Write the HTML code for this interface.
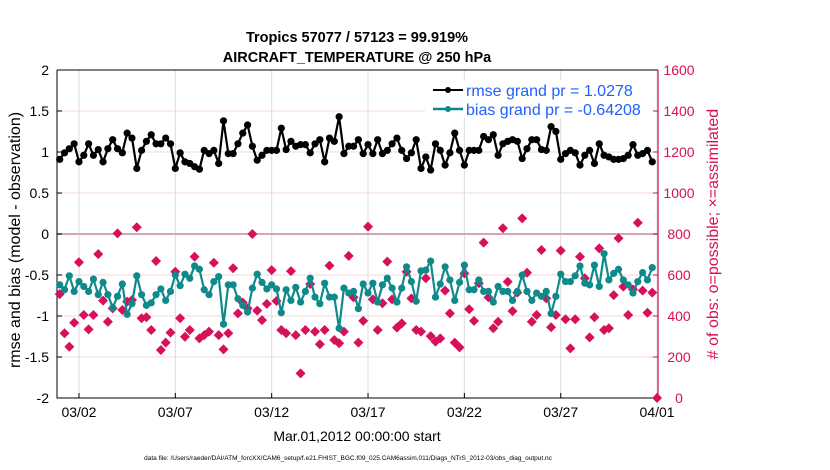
<!DOCTYPE html>
<html><head><meta charset="utf-8"><style>
body{margin:0;background:#fff;width:830px;height:470px;overflow:hidden}
svg{display:block;font-family:"Liberation Sans",sans-serif}
</style></head><body>
<svg id="chart" width="830" height="470" viewBox="0 0 830 470">
<g id="grid"></g>
<g id="axes"></g>
<g id="series"></g>
<text x="357" y="42" text-anchor="middle" font-size="14.5" font-weight="bold">Tropics 57077 / 57123 = 99.919%</text>
<text x="357" y="62" text-anchor="middle" font-size="14.5" font-weight="bold">AIRCRAFT_TEMPERATURE @ 250 hPa</text>
<text transform="translate(20,240) rotate(-90)" text-anchor="middle" font-size="16">rmse and bias (model - observation)</text>
<text transform="translate(718,234) rotate(-90)" text-anchor="middle" font-size="16" fill="#d6105a"># of obs: o=possible; ×=assimilated</text>
<text x="357" y="441" text-anchor="middle" font-size="14">Mar.01,2012 00:00:00 start</text>
<text x="348" y="460" text-anchor="middle" font-size="6.5">data file: /Users/raeder/DAI/ATM_forcXX/CAM6_setup/f.e21.FHIST_BGC.f09_025.CAM6assim.011/Diags_NTrS_2012-03/obs_diag_output.nc</text>
<g>
<rect x="425" y="80" width="228" height="38" fill="#fff"/>
<line x1="433" y1="90" x2="463" y2="90" stroke="#000" stroke-width="2"/>
<circle cx="448" cy="90" r="3" fill="#000"/>
<text x="466" y="96" font-size="16" fill="#1f5fff">rmse grand pr = 1.0278</text>
<line x1="433" y1="109" x2="463" y2="109" stroke="#0f8a8a" stroke-width="2.5"/>
<circle cx="448" cy="109" r="3" fill="#0f8a8a"/>
<text x="466" y="115" font-size="16" fill="#1f5fff">bias grand pr = -0.64208</text>
</g>
</svg>
<script>
const rmse=[0.91,0.99,1.04,1.10,0.88,0.96,1.10,0.96,1.03,0.88,1.04,1.15,1.04,0.99,1.23,1.17,0.80,1.02,1.13,1.21,1.10,1.10,1.17,1.10,0.80,0.99,0.88,0.86,0.82,0.79,1.02,0.98,
1.02,0.86,1.38,0.98,0.98,1.10,1.23,1.33,1.07,0.90,0.96,1.02,1.02,1.02,1.29,1.03,1.13,1.07,1.09,1.09,0.99,1.10,1.15,0.88,1.17,1.13,1.43,0.98,1.07,1.07,1.15,
0.98,1.09,0.98,1.15,0.98,1.02,1.10,1.17,1.02,0.92,0.99,1.15,0.80,0.94,0.78,1.10,1.02,0.84,0.99,1.23,1.02,0.84,1.02,1.02,1.02,1.19,1.15,1.21,0.96,1.10,1.13,
1.15,1.13,0.92,1.04,1.15,1.15,1.03,1.02,1.31,1.25,0.91,0.98,1.02,0.99,0.84,0.96,1.02,0.86,1.10,0.96,0.94,0.91,0.91,0.92,0.96,1.09,0.96,0.98,1.02,0.88];
const bias=[-0.62,-0.68,-0.51,-0.70,-0.58,-0.64,-0.70,-0.55,-0.74,-0.59,-0.74,-0.90,-0.76,-0.61,-0.98,-0.85,-0.51,-0.74,-0.87,-0.84,-0.74,-0.67,-0.81,-0.70,-0.50,-0.63,-0.49,-0.54,-0.39,-0.43,-0.68,-0.74,
-0.58,-0.52,-1.10,-0.62,-0.62,-0.79,-0.87,-0.95,-0.66,-0.49,-0.59,-0.67,-0.62,-0.67,-0.96,-0.68,-0.81,-0.65,-0.83,-0.70,-0.54,-0.77,-0.85,-0.60,-0.77,-0.77,-1.15,-0.66,-0.72,-0.70,-0.91,
-0.61,-0.72,-0.60,-0.83,-0.62,-0.54,-0.66,-0.83,-0.66,-0.40,-0.58,-0.82,-0.45,-0.44,-0.33,-0.77,-0.61,-0.40,-0.56,-0.81,-0.59,-0.38,-0.68,-0.68,-0.56,-0.70,-0.70,-0.83,-0.64,-0.70,-0.70,
-0.81,-0.70,-0.50,-0.70,-0.81,-0.72,-0.76,-0.70,-0.97,-0.76,-0.49,-0.58,-0.58,-0.51,-0.39,-0.60,-0.62,-0.38,-0.64,-0.24,-0.56,-0.48,-0.43,-0.56,-0.62,-0.72,-0.58,-0.47,-0.56,-0.41];
const obsCount=[507,316,250,367,662,405,335,405,702,475,372,437,803,429,470,478,833,389,394,332,668,234,270,319,616,389,299,332,689,291,307,324,
660,307,237,316,633,413,465,437,800,426,380,459,624,473,332,316,619,307,120,332,556,324,262,332,646,283,267,324,693,491,270,
376,836,481,332,462,665,481,343,364,616,486,332,324,584,302,275,291,524,413,270,247,608,433,376,560,758,491,340,372,828,567,
424,514,876,611,372,405,722,486,345,405,719,384,242,384,689,584,296,394,730,332,340,502,779,543,405,530,855,524,416,514,0];
const leftTicks=[2,1.5,1,0.5,0,-0.5,-1,-1.5,-2];
const rightTicks=[1600,1400,1200,1000,800,600,400,200,0];
const dateTicks=["03/02","03/07","03/12","03/17","03/22","03/27","04/01"];
const dateTickDays=[1,6,11,16,21,26,31];

const X0=57,X1=658,Y0=70,Y1=398;
const xDay=d=>59.7+d*19.27;
const yL=v=>Y1-(v+2)/4*(Y1-Y0);
const yR=v=>Y1-v/1600*(Y1-Y0);
const NS="http://www.w3.org/2000/svg";
function mk(tag,attrs,parent){const e=document.createElementNS(NS,tag);for(const k in attrs)e.setAttribute(k,attrs[k]);parent.appendChild(e);return e;}
const grid=document.getElementById('grid'),axes=document.getElementById('axes'),ser=document.getElementById('series');

leftTicks.forEach(v=>{
  const l=mk('line',{x1:X0,x2:X1,y1:yL(v),y2:yL(v),stroke:'#f2d4de','stroke-width':1},grid);
  
  
  const t=mk('line',{x1:X0,x2:X0+5,y1:yL(v),y2:yL(v),stroke:'#000'},axes);
  
  
  const tx=mk('text',{x:X0-8,y:yL(v)+5,'text-anchor':'end','font-size':14},axes);
  tx.textContent=String(v);
  
  
});
rightTicks.forEach(v=>{
  const t=mk('line',{x1:X1-5,x2:X1,y1:yR(v),y2:yR(v),stroke:'#d6105a'},axes);
  
  
  const tx=mk('text',{x:679,y:yR(v)+5,'text-anchor':'middle','font-size':14,fill:'#d6105a'},axes);
  tx.textContent=String(v);
  
  
});
dateTicks.forEach((lab,i)=>{
  const x=xDay(dateTickDays[i]);
  const g=mk('line',{x1:x,x2:x,y1:Y0,y2:Y1,stroke:'#dcdcdc'},grid);
  
  
  const t=mk('line',{x1:x,x2:x,y1:Y1,y2:Y1-5,stroke:'#000'},axes);
  
  
  const tx=mk('text',{x:x,y:Y1+19,'text-anchor':'middle','font-size':14},axes);
  tx.textContent=lab;
  
  
});
const z=mk('line',{x1:X0,x2:X1,y1:yL(0),y2:yL(0),stroke:'#cfa8b4','stroke-width':2},grid);


const fr=mk('path',{d:`M${X0},${Y0}H${X1}M${X0},${Y0}V${Y1}H${X1}`,fill:'none',stroke:'#000','stroke-width':1},axes);


const ra=mk('line',{x1:X1,x2:X1,y1:Y0,y2:Y1,stroke:'#d6105a','stroke-width':1.2},axes);



obsCount.forEach((c,i)=>{
  const x=xDay(i*0.25),y=yR(c),s=5;
  const d=mk('path',{d:`M${x},${y-s}L${x+s},${y}L${x},${y+s}L${x-s},${y}Z`,fill:'#d6105a'},ser);
  
  
});
function line(vals,color,name){
  const pts=vals.map((v,i)=>`${xDay(i*0.25).toFixed(1)},${yL(v).toFixed(1)}`).join(' ');
  const p=mk('polyline',{points:pts,fill:'none',stroke:color,'stroke-width':2.2,'stroke-linejoin':'round'},ser);
  
  
  vals.forEach((v,i)=>{
    const c=mk('circle',{cx:xDay(i*0.25),cy:yL(v),r:3.6,fill:color},ser);
    
    
  });
}
line(bias,'#0f8a8a','bias');
line(rmse,'#000','rmse');
</script>
</body></html>
